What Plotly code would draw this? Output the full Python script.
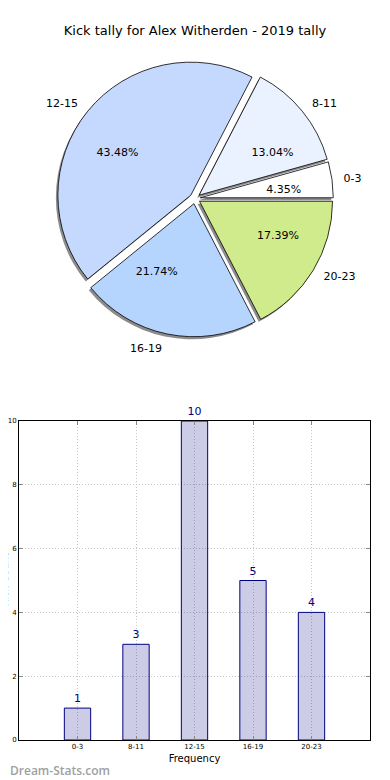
import plotly.graph_objects as go

# ---- data ----
categories = ["0-3", "8-11", "12-15", "16-19", "20-23"]
kick_counts = [1, 3, 10, 5, 4]
pie_colors = ["#ffffff", "#ebf2ff", "#c5d9ff", "#b5d5ff", "#d0eb8c"]
title_text = "Kick tally for Alex Witherden - 2019 tally"
x_title = "Frequency"
y_title = "Kick Count"
watermark = "Dream-Stats.com"
y_ticks = [0, 2, 4, 6, 8, 10]

# page body has an 8px margin: figure is sized to end at the window edge
OFF = 8
W, H = 390 - OFF, 780 - OFF
FONT = "DejaVu Sans"


def fx(x):  # window pixel -> paper x
    return (x - OFF) / W


def fy(y):  # window pixel -> paper y
    return 1 - (y - OFF) / H


# pie geometry (window pixels)
cx, cy = 195, 198.5
pull = 0.04
r_main = 133
r_label = 141
r_pct = 66


def dom(r, dx=0, dy=0):
    half = r * (1 + pull)
    return dict(x=[fx(cx + dx - half), fx(cx + dx + half)],
                y=[fy(cy + dy + half), fy(cy + dy - half)])


# first slice should start at 3 o'clock going counterclockwise;
# plotly makes the first ccw slice END at the rotation angle
rotation = 90 - 360 * kick_counts[0] / sum(kick_counts)

pulls = [pull] * len(categories)
common = dict(labels=categories, values=kick_counts, sort=False,
              direction="counterclockwise", rotation=rotation, pull=pulls,
              hoverinfo="skip", showlegend=False)

fig = go.Figure()

# shadow
fig.add_trace(go.Pie(**common, domain=dom(r_main, -2, 2.5),
                     marker=dict(colors=["#8c8c8c"] * len(categories),
                                 line=dict(width=0)),
                     textinfo="none"))
# main pie
fig.add_trace(go.Pie(**common, domain=dom(r_main),
                     marker=dict(colors=pie_colors,
                                 line=dict(color="#000000", width=0.8)),
                     textinfo="none"))
# percentage text
fig.add_trace(go.Pie(**common, domain=dom(r_pct),
                     marker=dict(colors=["rgba(0,0,0,0)"] * len(categories),
                                 line=dict(width=0)),
                     texttemplate="%{percent:.2%}", textposition="outside",
                     outsidetextfont=dict(family=FONT, size=11, color="#000")))
# category labels
fig.add_trace(go.Pie(**common, domain=dom(r_label),
                     marker=dict(colors=["rgba(0,0,0,0)"] * len(categories),
                                 line=dict(width=0)),
                     texttemplate="%{label}", textposition="outside",
                     outsidetextfont=dict(family=FONT, size=11, color="#000")))

# bar chart
fig.add_trace(go.Bar(x=categories, y=kick_counts, width=0.45,
                     marker=dict(color="rgba(0,0,128,0.2)",
                                 line=dict(color="#000080", width=1)),
                     text=[str(v) for v in kick_counts],
                     textposition="outside",
                     textfont=dict(family=FONT, size=11, color="#000080"),
                     cliponaxis=False, showlegend=False, hoverinfo="skip"))

axis_common = dict(showline=True, linecolor="#000", linewidth=1, mirror="ticks",
                   ticks="inside", ticklen=4, tickcolor="#888", automargin=False,
                   showgrid=True, gridcolor="#c4c4c4", griddash="1px,2px", gridwidth=1,
                   zeroline=False, tickfont=dict(family=FONT, size=7, color="#000"))

fig.update_layout(
    width=W, height=H, autosize=False,
    margin=dict(l=0, r=0, t=0, b=0, pad=0, autoexpand=False),
    paper_bgcolor="white", plot_bgcolor="white",
    font=dict(family=FONT, color="#000"),
    title=dict(text=title_text, x=fx(195), xanchor="center",
               y=fy(30), yanchor="middle",
               font=dict(family=FONT, size=13, color="#000")),
    xaxis=dict(**axis_common, type="category", range=[-1, 5],
               domain=[fx(19), fx(370)], anchor="y",
               title=dict(text=x_title, standoff=4,
                          font=dict(family=FONT, size=10, color="#000"))),
    yaxis=dict(**axis_common, range=[0, 10], tickvals=y_ticks,
               domain=[fy(740), fy(421)], anchor="x"),
    annotations=[
        dict(text=watermark, xref="paper", yref="paper", x=0, y=fy(770),
             xanchor="left", yanchor="middle", showarrow=False,
             font=dict(family="Open Sans", size=12, color="#a0a0a0", weight=600)),
        dict(text=y_title, xref="paper", yref="paper", x=0, xshift=3,
             y=fy(580), xanchor="right", yanchor="middle",
             textangle=-90, showarrow=False,
             font=dict(family=FONT, size=10, color="#000")),
    ],
)

fig.write_html("out.html")
